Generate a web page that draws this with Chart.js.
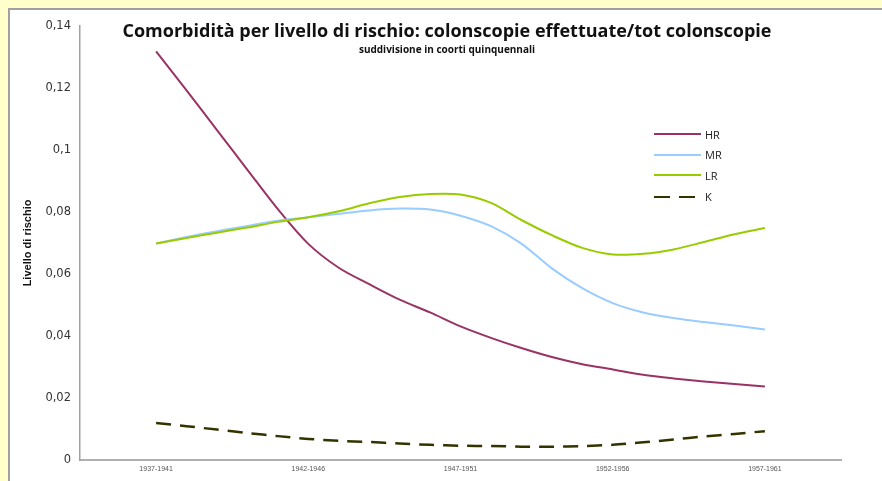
<!DOCTYPE html>
<html>
<head>
<meta charset="utf-8">
<script src="https://cdn.jsdelivr.net/npm/chart.js@4.4.1/dist/chart.umd.min.js"></script>
<style>
    html, body { margin: 0; padding: 0; }
    body { width: 882px; height: 481px; background: #FFFFCC; overflow: hidden; position: relative; }
    #wrap {
        position: absolute; left: 8px; top: 8px; width: 874px; height: 473px;
        box-sizing: border-box; background: #fff;
        border-left: 2px solid #a0a0a0; border-top: 2px solid #a0a0a0;
    }
    #box { position: absolute; left: 0; top: 0; width: 872px; height: 471px; }
    .title {
        position: absolute; left: -10px; width: 894px; text-align: center;
        font-family: "Open Sans", sans-serif; font-weight: bold; color: #111; white-space: nowrap;
    }
    #mainTitle { top: 8px; font-size: 18px; }
    #subTitle { top: 32px; font-size: 10px; }
    #legend { position: absolute; left: 644px; top: 114px; font-family: "Open Sans", sans-serif; font-size: 11px; color: #222; }
    .row { height: 20.6px; display: flex; align-items: center; }
    .swatch { width: 47px; height: 0; margin-right: 4px; }
</style>
</head>
<body>
<div id="wrap">
    <div id="box"><canvas id="chart"></canvas></div>
    <div id="mainTitle" class="title">Comorbidità per livello di rischio: colonscopie effettuate/tot colonscopie</div>
    <div id="subTitle" class="title">suddivisione in coorti quinquennali</div>
    <div id="legend"></div>
</div>
<script>
// cohort labels, shown every 5 steps
const cohorts = ['1937-1941', '1942-1946', '1947-1951', '1952-1956', '1957-1961'];
const cohortTicks = [0, 5, 10, 15, 20];

const hr = [0.1318, 0.1192, 0.1064, 0.0936, 0.0809, 0.0697, 0.0620, 0.0567, 0.0517, 0.0476, 0.0431,
            0.0394, 0.0361, 0.0332, 0.0309, 0.0292, 0.0275, 0.0263, 0.0253, 0.0245, 0.0237];
const mr = [0.0698, 0.0719, 0.0738, 0.0755, 0.0772, 0.0783, 0.0794, 0.0805, 0.0811, 0.0808, 0.0788,
            0.0754, 0.0698, 0.0618, 0.0554, 0.0506, 0.0476, 0.0458, 0.0445, 0.0434, 0.0421];
const lr = [0.0698, 0.0716, 0.0733, 0.0750, 0.0768, 0.0783, 0.0802, 0.0828, 0.0848, 0.0858, 0.0856,
            0.0829, 0.0774, 0.0725, 0.0684, 0.0663, 0.0665, 0.0679, 0.0703, 0.0728, 0.0748];
const k  = [0.0119, 0.0109, 0.0098, 0.0087, 0.0077, 0.0068, 0.0062, 0.0058, 0.0053, 0.0049, 0.0046,
            0.0045, 0.0043, 0.0043, 0.0045, 0.0049, 0.0057, 0.0066, 0.0076, 0.0084, 0.0093];

const yTicks = [0, 0.02, 0.04, 0.06, 0.08, 0.1, 0.12, 0.14];

const toPoints = arr => arr.map((v, i) => ({ x: i, y: v }));

const series = [
    { label: 'HR', data: hr, color: '#993366', dash: [], order: 4 },
    { label: 'MR', data: mr, color: '#99CCFF', dash: [], order: 3 },
    { label: 'LR', data: lr, color: '#99CC00', dash: [], order: 2 },
    { label: 'K',  data: k,  color: '#333300', dash: [15, 9], order: 1 }
];

// html legend
const legend = document.getElementById('legend');
series.forEach(s => {
    const sw = s.dash.length
        ? `<span class="swatch" style="display:flex;gap:9px"><i style="width:16px;border-top:2.5px solid ${s.color}"></i><i style="width:16px;border-top:2.5px solid ${s.color}"></i></span>`
        : `<span class="swatch" style="border-top:2px solid ${s.color}"></span>`;
    legend.innerHTML += `<div class="row">${sw}<span>${s.label}</span></div>`;
});

new Chart(document.getElementById('chart'), {
    type: 'line',
    data: {
        datasets: series.map(s => ({
            label: s.label,
            data: toPoints(s.data),
            borderColor: s.color,
            backgroundColor: s.color,
            borderWidth: s.dash.length ? 2.5 : 2,
            borderDash: s.dash,
            pointRadius: 0,
            tension: 0.3,
            order: s.order
        }))
    },
    options: {
        responsive: true,
        maintainAspectRatio: false,
        animation: false,
        layout: { padding: { top: 12, right: 41, left: 0, bottom: 0 } },
        plugins: { legend: { display: false }, tooltip: { enabled: false } },
        scales: {
            x: {
                type: 'linear',
                min: -2.5,
                max: 22.5,
                afterBuildTicks: axis => { axis.ticks = cohortTicks.map(v => ({ value: v })); },
                afterFit: axis => { axis.height = 21; },
                grid: { display: false, drawTicks: false },
                border: { color: '#b0b0b0', width: 2 },
                ticks: {
                    autoSkip: false, maxRotation: 0, padding: 5,
                    color: '#555',
                    font: { family: "'Liberation Sans', sans-serif", size: 7 },
                    callback: v => cohorts[cohortTicks.indexOf(v)]
                }
            },
            y: {
                min: 0,
                max: 0.14,
                afterBuildTicks: axis => { axis.ticks = yTicks.map(v => ({ value: v })); },
                afterFit: axis => { axis.width = 70; },
                grid: { display: false, drawTicks: false },
                border: { color: '#a0a0a0', width: 1.5 },
                ticks: {
                    padding: 9,
                    color: '#333',
                    font: { family: "'DejaVu Sans', sans-serif", size: 11.5 },
                    callback: v => String(Number(v.toFixed(2))).replace('.', ',')
                },
                title: {
                    display: true,
                    text: 'Livello di rischio',
                    color: '#111',
                    padding: { top: 11, bottom: 0 },
                    font: { family: "'Liberation Sans', sans-serif", size: 11, weight: 'bold' }
                }
            }
        }
    }
});
</script>
</body>
</html>
